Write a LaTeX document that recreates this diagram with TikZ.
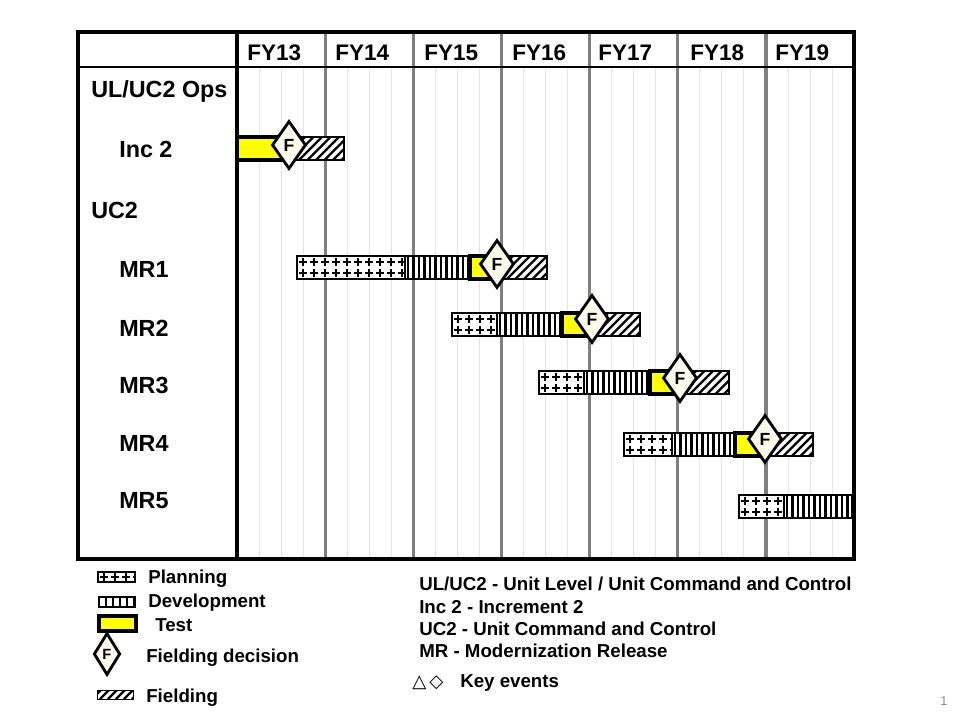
\documentclass[tikz,border=0pt]{standalone}
\usepackage{fontspec}
\setmainfont{Liberation Sans}
\newfontfamily\symfont{DejaVu Sans}
\usepackage{tikz}
\usetikzlibrary{shapes.geometric}
\definecolor{tst}{HTML}{FFFF00}
\definecolor{fdec}{HTML}{FBFBEC}
\definecolor{yrline}{HTML}{7F7F7F}
\definecolor{qline}{HTML}{E4E4E4}

\begin{document}
\begin{tikzpicture}[x=0.025cm,y=-0.025cm,
  hdr/.style={font=\bfseries\fontsize{16}{18}\selectfont,anchor=base west,inner sep=0pt},
  rowlab/.style={font=\bfseries\fontsize{16.6}{18}\selectfont,anchor=base west,inner sep=0pt},
  leg/.style={font=\bfseries\fontsize{13.3}{15}\selectfont,anchor=base west,inner sep=0pt},
  bar/.style={draw=black,line width=0.9pt,fill=white},
  testbar/.style={draw=black,line width=2.8pt,fill=tst},
  ink/.style={line width=1.7pt},
  plus/.style={line width=1.6pt},
  fdiam/.style={diamond,draw=black,line width=2pt,fill=fdec,inner sep=0pt,
    minimum width=0.85cm,minimum height=1.2cm,font=\bfseries\fontsize{12.5}{12.5}\selectfont}]
\useasboundingbox (0,0) rectangle (960,720);
% quarter grid
\foreach \yr in {0,...,6}{
  \foreach \q in {1,2,3}
    \draw[qline,line width=0.6pt] (237+\yr*88.17+\q*22,67) -- (237+\yr*88.17+\q*22,559);
}
% year lines
\foreach \yr in {1,...,6}
  \draw[yrline,line width=2.2pt] (237+\yr*88.17,32) -- (237+\yr*88.17,559);
% header line, divider, frame
\draw[line width=1pt] (76,67) -- (854,67);
\draw[line width=2.4pt] (237,32) -- (237,559);
\draw[line width=2.4pt] (78,32) rectangle (854,559);
% fiscal years
\foreach \x/\lab in {247/FY13,335/FY14,424/FY15,512/FY16,598/FY17,690/FY18,775/FY19}
  \node[hdr] (h\lab) at (\x,61) {\lab};
% row labels
\node[rowlab] (rops) at (91,98) {UL/UC2 Ops};
\foreach \nm/\x/\y/\lab in {rinc/119/158/Inc 2,ruc/91/219/UC2,rmra/119/278/MR1,rmrb/119/337/MR2,
                            rmrc/119/394/MR3,rmrd/119/452/MR4,rmre/119/509/MR5}
  \node[rowlab] (\nm) at (\x,\y) {\lab};
% planning
\foreach \ya/\xa/\xb in {256/297/405,313/452/497,371/539/584,433/624/672,495/739/784}{
  \draw[bar] (\xa,\ya) rectangle (\xb,\ya+23);
  \begin{scope}
    \clip (\xa,\ya) rectangle (\xb,\ya+23);
    \foreach \cx in {6,17,...,116}
      \foreach \cy in {6,17}
        \draw[plus] (\xa+\cx-4,\ya+\cy) -- ++(8,0) (\xa+\cx,\ya+\cy-4) -- ++(0,8);
  \end{scope}
}
% development
\foreach \ya/\xa/\xb in {256/405/470,313/497/562,371/584/650,433/672/735,495/784/852}{
  \draw[bar] (\xa,\ya) rectangle (\xb,\ya+23);
  \begin{scope}
    \clip (\xa,\ya) rectangle (\xb,\ya+23);
    \foreach \lx in {3,8.5,...,70}
      \draw[ink] (\xa+\lx,\ya) -- ++(0,23);
  \end{scope}
}
% fielding
\foreach \ya/\xa/\xb in {137/289/344,256/497/547,313/592/640,371/680/729,433/765/813}{
  \draw[bar] (\xa,\ya) rectangle (\xb,\ya+23);
  \begin{scope}
    \clip (\xa,\ya) rectangle (\xb,\ya+23);
    \foreach \hx in {-24,-15.5,...,64}
      \draw[ink] (\xa+\hx,\ya+23) -- ++(23,-23);
  \end{scope}
}
% test
\foreach \ya/\xa/\xb in {137/237/289,256/470/497,313/562/592,371/650/680,433/735/765}
  \draw[testbar] (\xa,\ya) rectangle (\xb,\ya+23);
% fielding decisions
\foreach \nm/\x/\y in {finc/289/145,fmra/497/264,fmrb/592/319,fmrc/680/378,fmrd/765/439}
  \node[fdiam] (\nm) at (\x,\y) {F};
% legend swatches
\draw[bar] (98,572) rectangle (135,582);
\begin{scope}
  \clip (98,572) rectangle (135,582);
  \foreach \cx in {104,115,...,140}
    \draw[plus] (\cx-4,577) -- ++(8,0) (\cx,573) -- ++(0,8);
\end{scope}
\draw[bar,line width=1.8pt] (99,597) rectangle (135,607);
\foreach \lx in {106,113,...,134}
  \draw[ink,line width=2pt] (\lx,597) -- (\lx,607);
\draw[testbar] (99,616) rectangle (136,631);
\node[fdiam,minimum width=0.66cm,minimum height=1.05cm,font=\bfseries\fontsize{10.5}{10.5}\selectfont] (lfd) at (107,654) {F};
\begin{scope}
  \clip (97,690) rectangle (133,699);
  \foreach \hx in {84,92,...,134}
    \draw[ink] (\hx,699) -- ++(9,-9);
\end{scope}
\draw[line width=0.6pt] (97,690) rectangle (133,699);
% legend texts
\node[leg] (lplan) at (148,583) {Planning};
\node[leg] (ldev) at (148,607) {Development};
\node[leg] (ltest) at (155,631) {Test};
\node[leg] (lfdec) at (146,662) {Fielding decision};
\node[leg] (lfld) at (146,702) {Fielding};
\node[leg] (abul) at (419,590) {UL/UC2 - Unit Level / Unit Command and Control};
\node[leg] (abinc) at (419,613) {Inc 2 - Increment 2};
\node[leg] (abuc) at (419,635) {UC2 - Unit Command and Control};
\node[leg] (abmr) at (419,657) {MR - Modernization Release};
\node[anchor=base west,inner sep=0pt,font=\symfont\fontsize{13}{13}\selectfont] (ksym) at (412,687) {△\,◇};
\node[leg] (kev) at (460,687) {Key events};
\node[font=\fontsize{9}{9}\selectfont,text=black!45,anchor=base] (pgno) at (944,705) {1};
\end{tikzpicture}
\end{document}
